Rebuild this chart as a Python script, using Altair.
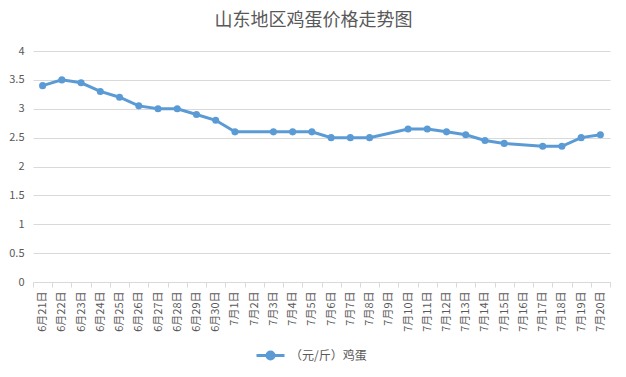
import altair as alt
import pandas as pd

dates = ["6月21日", "6月22日", "6月23日", "6月24日", "6月25日", "6月26日", "6月27日",
         "6月28日", "6月29日", "6月30日", "7月1日", "7月2日", "7月3日", "7月4日",
         "7月5日", "7月6日", "7月7日", "7月8日", "7月9日", "7月10日", "7月11日",
         "7月12日", "7月13日", "7月14日", "7月15日", "7月16日", "7月17日", "7月18日",
         "7月19日", "7月20日"]
prices = [3.4, 3.5, 3.45, 3.3, 3.2, 3.05, 3.0, 3.0, 2.9, 2.8, 2.6, None, 2.6, 2.6,
          2.6, 2.5, 2.5, 2.5, None, 2.65, 2.65, 2.6, 2.55, 2.45, 2.4, None, 2.35, 2.35,
          2.5, 2.55]
series_name = "（元/斤）鸡蛋"
y_ticks = [0, 0.5, 1, 1.5, 2, 2.5, 3, 3.5, 4]

df = pd.DataFrame({"date": dates, "price": prices})
df["series"] = series_name
df = df.dropna()

FONT = "Noto Sans CJK SC"
GRAY = "#595959"
BLUE = "#5B9BD5"

color = alt.Color(
    "series:N",
    scale=alt.Scale(range=[BLUE]),
    legend=alt.Legend(
        title=None,
        orient="none",
        legendX=222,
        legendY=289,
        symbolType="M-1,0H1M-0.25,0A0.25,0.25 0 1,1 0.25,0A0.25,0.25 0 1,1 -0.25,0Z",
        symbolSize=784,
        symbolStrokeWidth=3,
        symbolFillColor=BLUE,
        symbolStrokeColor=BLUE,
        labelFont=FONT,
        labelFontSize=12,
        labelColor=GRAY,
        labelOffset=4,
    ),
)

x = alt.X(
    "date:N",
    sort=dates,
    scale=alt.Scale(domain=dates, paddingInner=0, paddingOuter=0),
    axis=alt.Axis(
        title=None,
        labelAngle=-90,
        labelFont=FONT,
        labelFontSize=11,
        labelColor=GRAY,
        domainColor="#d9d9d9",
        tickColor="#d9d9d9",
        tickSize=5,
        tickBand="extent",
        labelPadding=4,
        grid=False,
        labelOverlap=False,
    ),
)
y = alt.Y(
    "price:Q",
    scale=alt.Scale(domain=[0, 4], nice=False),
    axis=alt.Axis(
        title=None,
        values=y_ticks,
        format="~g",
        labelFont=FONT,
        labelFontSize=11,
        labelColor=GRAY,
        domain=False,
        ticks=False,
        labelPadding=9,
        gridColor="#d9d9d9",
        gridWidth=1,
    ),
)

line = alt.Chart(df).mark_line(strokeWidth=3).encode(x=x, y=y, color=color)
points = alt.Chart(df).mark_point(filled=True, size=50, opacity=1).encode(x=x, y=y, color=color)

chart = (
    alt.layer(line, points)
    .properties(
        width=577,
        height=231,
        autosize=alt.AutoSizeParams(type="none"),
        padding={"left": 33, "top": 51, "right": 16, "bottom": 95},
        title=alt.TitleParams(
            text="山东地区鸡蛋价格走势图",
            font=FONT,
            fontSize=18,
            fontWeight="normal",
            color=GRAY,
            anchor="middle",
            offset=15,
            dx=-8,
        ),
        background="white",
    )
    .configure_view(stroke=None)
)

chart.save("out.html", embed_options={"renderer": "svg", "actions": False})
